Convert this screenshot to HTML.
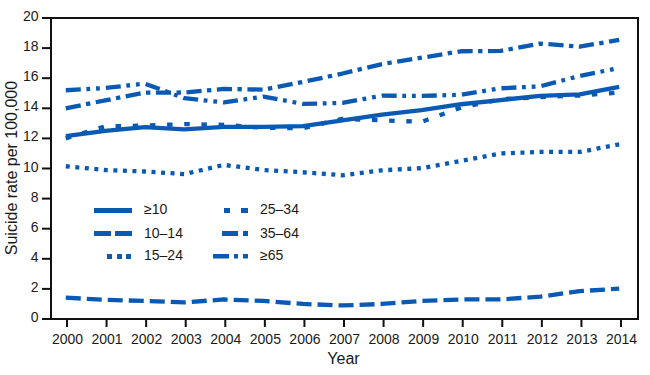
<!DOCTYPE html>
<html><head><meta charset="utf-8"><style>
html,body{margin:0;padding:0;background:#fff;}
svg{display:block;}
.t{font-family:"Liberation Sans",sans-serif;font-size:14px;fill:#1a1a1a;}
.lab{font-family:"Liberation Sans",sans-serif;font-size:16px;fill:#1a1a1a;}
</style></head><body>
<svg width="650" height="375" viewBox="0 0 650 375">
<rect width="650" height="375" fill="#fff"/>
<polyline points="65.80,138.40 105.33,126.36 144.86,125.61 184.39,124.10 223.91,124.85 263.44,127.87 302.97,128.17 342.50,118.83 382.03,120.34 421.56,121.84 461.09,107.55 500.61,99.27 540.14,97.16 579.67,95.51 619.20,92.50" fill="none" stroke="#0a5ab4" stroke-width="4.3" stroke-linejoin="round" stroke-dasharray="5.5 11.68"/>
<polyline points="65.80,166.24 105.33,170.00 144.86,171.51 184.39,174.07 223.91,164.89 263.44,170.00 302.97,172.26 342.50,175.27 382.03,170.31 421.56,168.20 461.09,160.97 500.61,153.45 540.14,151.94 579.67,151.94 619.20,144.42" fill="none" stroke="#0a5ab4" stroke-width="4.3" stroke-linejoin="round" stroke-dasharray="4 5.547"/>
<polyline points="65.80,297.63 105.33,299.89 144.86,300.94 184.39,302.44 223.91,299.44 263.44,300.94 302.97,303.95 342.50,305.45 382.03,303.95 421.56,300.94 461.09,299.44 500.61,299.44 540.14,296.73 579.67,291.16 619.20,288.60" fill="none" stroke="#0a5ab4" stroke-width="4.3" stroke-linejoin="round" stroke-dasharray="15 6.01"/>
<polyline points="65.80,90.24 105.33,87.98 144.86,83.62 184.39,98.22 223.91,102.43 263.44,96.56 302.97,103.94 342.50,102.88 382.03,95.66 421.56,95.96 461.09,94.75 500.61,88.28 540.14,86.33 579.67,75.94 619.20,67.97" fill="none" stroke="#0a5ab4" stroke-width="4.3" stroke-linejoin="round" stroke-dasharray="15 5.6 3.8 5.9 3.8 6.0"/>
<polyline points="65.80,108.30 105.33,100.32 144.86,92.65 184.39,92.50 223.91,88.89 263.44,89.64 302.97,81.96 342.50,73.53 382.03,64.05 421.56,57.73 461.09,51.26 500.61,50.96 540.14,43.58 579.67,46.59 619.20,39.97" fill="none" stroke="#0a5ab4" stroke-width="4.3" stroke-linejoin="round" stroke-dasharray="15.2 5.4 4.4 5.55"/>
<polyline points="65.80,136.14 105.33,130.88 144.86,127.11 184.39,129.37 223.91,126.96 263.44,126.96 302.97,126.06 342.50,120.34 382.03,114.62 421.56,110.11 461.09,104.24 500.61,100.02 540.14,95.81 579.67,94.45 619.20,86.93" fill="none" stroke="#0a5ab4" stroke-width="4.3" stroke-linejoin="round"/>
<rect x="50" y="17" width="589" height="2" fill="#111"/>
<rect x="50" y="318" width="589" height="2" fill="#111"/>
<rect x="50" y="17" width="2" height="303" fill="#111"/>
<rect x="637" y="17" width="2" height="303" fill="#111"/>
<rect x="42" y="318.00" width="9" height="2" fill="#111"/>
<text x="38.5" y="322.00" class="t" text-anchor="end">0</text>
<rect x="42" y="287.90" width="9" height="2" fill="#111"/>
<text x="38.5" y="291.90" class="t" text-anchor="end">2</text>
<rect x="42" y="257.80" width="9" height="2" fill="#111"/>
<text x="38.5" y="261.80" class="t" text-anchor="end">4</text>
<rect x="42" y="227.70" width="9" height="2" fill="#111"/>
<text x="38.5" y="231.70" class="t" text-anchor="end">6</text>
<rect x="42" y="197.60" width="9" height="2" fill="#111"/>
<text x="38.5" y="201.60" class="t" text-anchor="end">8</text>
<rect x="42" y="167.50" width="9" height="2" fill="#111"/>
<text x="38.5" y="171.50" class="t" text-anchor="end">10</text>
<rect x="42" y="137.40" width="9" height="2" fill="#111"/>
<text x="38.5" y="141.40" class="t" text-anchor="end">12</text>
<rect x="42" y="107.30" width="9" height="2" fill="#111"/>
<text x="38.5" y="111.30" class="t" text-anchor="end">14</text>
<rect x="42" y="77.20" width="9" height="2" fill="#111"/>
<text x="38.5" y="81.20" class="t" text-anchor="end">16</text>
<rect x="42" y="47.10" width="9" height="2" fill="#111"/>
<text x="38.5" y="51.10" class="t" text-anchor="end">18</text>
<rect x="42" y="17.00" width="9" height="2" fill="#111"/>
<text x="38.5" y="21.00" class="t" text-anchor="end">20</text>
<rect x="66.00" y="319" width="2" height="8" fill="#111"/>
<text x="67.50" y="344" class="t" text-anchor="middle">2000</text>
<rect x="105.57" y="319" width="2" height="8" fill="#111"/>
<text x="107.07" y="344" class="t" text-anchor="middle">2001</text>
<rect x="145.14" y="319" width="2" height="8" fill="#111"/>
<text x="146.64" y="344" class="t" text-anchor="middle">2002</text>
<rect x="184.71" y="319" width="2" height="8" fill="#111"/>
<text x="186.21" y="344" class="t" text-anchor="middle">2003</text>
<rect x="224.29" y="319" width="2" height="8" fill="#111"/>
<text x="225.79" y="344" class="t" text-anchor="middle">2004</text>
<rect x="263.86" y="319" width="2" height="8" fill="#111"/>
<text x="265.36" y="344" class="t" text-anchor="middle">2005</text>
<rect x="303.43" y="319" width="2" height="8" fill="#111"/>
<text x="304.93" y="344" class="t" text-anchor="middle">2006</text>
<rect x="343.00" y="319" width="2" height="8" fill="#111"/>
<text x="344.50" y="344" class="t" text-anchor="middle">2007</text>
<rect x="382.57" y="319" width="2" height="8" fill="#111"/>
<text x="384.07" y="344" class="t" text-anchor="middle">2008</text>
<rect x="422.14" y="319" width="2" height="8" fill="#111"/>
<text x="423.64" y="344" class="t" text-anchor="middle">2009</text>
<rect x="461.71" y="319" width="2" height="8" fill="#111"/>
<text x="463.21" y="344" class="t" text-anchor="middle">2010</text>
<rect x="501.29" y="319" width="2" height="8" fill="#111"/>
<text x="502.79" y="344" class="t" text-anchor="middle">2011</text>
<rect x="540.86" y="319" width="2" height="8" fill="#111"/>
<text x="542.36" y="344" class="t" text-anchor="middle">2012</text>
<rect x="580.43" y="319" width="2" height="8" fill="#111"/>
<text x="581.93" y="344" class="t" text-anchor="middle">2013</text>
<rect x="620.00" y="319" width="2" height="8" fill="#111"/>
<text x="621.50" y="344" class="t" text-anchor="middle">2014</text>
<text x="343.5" y="363.7" class="lab" text-anchor="middle">Year</text>
<text transform="translate(16.5,255.2) rotate(-90)" class="lab">Suicide rate per 100,000</text>
<rect x="94" y="208" width="38" height="5" fill="#0a5ab4"/>
<rect x="94" y="231" width="17" height="5" fill="#0a5ab4"/>
<rect x="115" y="231" width="17" height="5" fill="#0a5ab4"/>
<rect x="107" y="254" width="5" height="5" fill="#0a5ab4"/>
<rect x="117" y="254" width="5" height="5" fill="#0a5ab4"/>
<rect x="126" y="254" width="5" height="5" fill="#0a5ab4"/>
<rect x="224" y="208" width="6" height="5" fill="#0a5ab4"/>
<rect x="241" y="208" width="7" height="5" fill="#0a5ab4"/>
<rect x="222" y="231" width="16" height="5" fill="#0a5ab4"/>
<rect x="243" y="231" width="5" height="5" fill="#0a5ab4"/>
<rect x="213" y="254" width="16" height="4.5" fill="#0a5ab4"/>
<rect x="234" y="254" width="4" height="4.5" fill="#0a5ab4"/>
<rect x="243" y="254" width="5" height="4.5" fill="#0a5ab4"/>
<text x="144" y="214" class="t">≥10</text>
<text x="144" y="238" class="t">10–14</text>
<text x="144" y="260" class="t">15–24</text>
<text x="260" y="214" class="t">25–34</text>
<text x="260" y="238" class="t">35–64</text>
<text x="260" y="260" class="t">≥65</text>
</svg>
</body></html>
